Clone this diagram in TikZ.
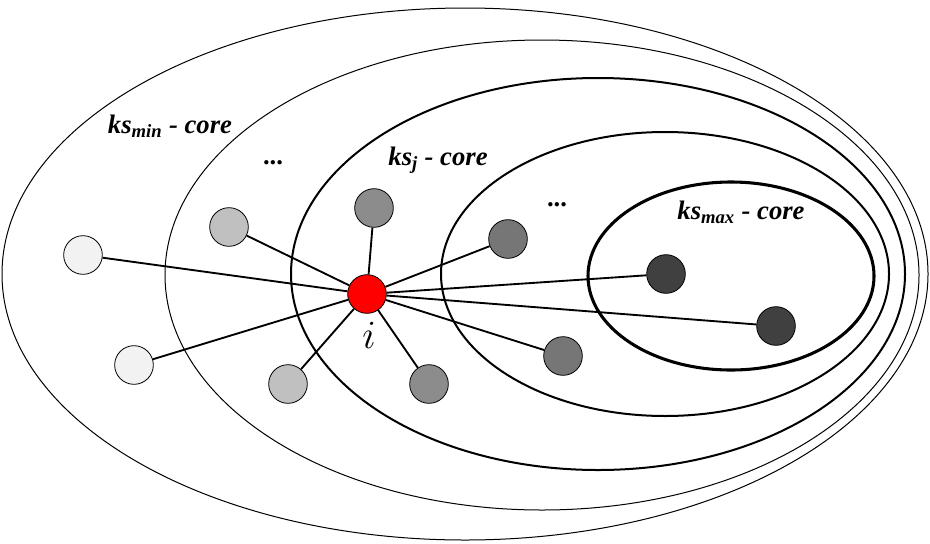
\RequirePackage{fix-cm}
\documentclass[tikz,border=0pt]{standalone}
\usepackage{fontspec}
\setmainfont{Liberation Serif}
\usetikzlibrary{positioning}
\definecolor{shellA}{HTML}{F2F2F2}
\definecolor{shellB}{HTML}{C0C0C0}
\definecolor{shellC}{HTML}{8C8C8C}
\definecolor{shellD}{HTML}{767676}
\definecolor{shellE}{HTML}{404040}
\definecolor{seed}{HTML}{FF0000}

\begin{document}
\begin{tikzpicture}[
  x=0.75pt,y=-0.75pt,
  vertex/.style={circle,draw=black,line width=0.6pt,minimum size=29pt,inner sep=0pt},
  link/.style={line width=1.4pt},
  corelabel/.style={font=\fontsize{20}{24}\selectfont\bfseries\itshape},
  dots/.style={font=\fontsize{20}{24}\selectfont\bfseries}
]
\useasboundingbox (0,0) rectangle (930,543);

% nested k-shell cores
\draw[line width=0.75pt] (465,274) ellipse [x radius=463, y radius=266];
\draw[line width=0.75pt] (542,275) ellipse [x radius=377, y radius=235];
\draw[line width=1.5pt] (598,274) ellipse [x radius=307, y radius=196];
\draw[line width=1.5pt] (665,274) ellipse [x radius=224, y radius=142];
\draw[line width=2.3pt] (731,276) ellipse [x radius=143, y radius=94];

\node[corelabel] (lmin) at (170,126) {ks\textsubscript{min} - core};
\node[corelabel] (lj) at (438,160) {ks\textsubscript{j} - core};
\node[corelabel] (lmax) at (741,212) {ks\textsubscript{max} - core};
\node[dots] (d1) at (273,163) {...};
\node[dots] (d2) at (557,205) {...};

\node[vertex,fill=seed] (i) at (367,294) {};
\node (ilbl) at (369,335) {\fontsize{30}{34}\selectfont$i$};

\node[vertex,fill=shellA] (a1) at (83,255) {};
\node[vertex,fill=shellA] (a2) at (134,365) {};
\node[vertex,fill=shellB] (b1) at (229,227) {};
\node[vertex,fill=shellB] (b2) at (288,384) {};
\node[vertex,fill=shellC] (c1) at (374,208) {};
\node[vertex,fill=shellC] (c2) at (429,384) {};
\node[vertex,fill=shellD] (d3) at (508,239) {};
\node[vertex,fill=shellD] (d4) at (563,356) {};
\node[vertex,fill=shellE] (e1) at (666,274) {};
\node[vertex,fill=shellE] (e2) at (776,326) {};

\foreach \n in {a1,a2,b1,b2,c1,c2,d3,d4,e1,e2}
  \draw[link] (i) -- (\n);
\end{tikzpicture}
\end{document}
